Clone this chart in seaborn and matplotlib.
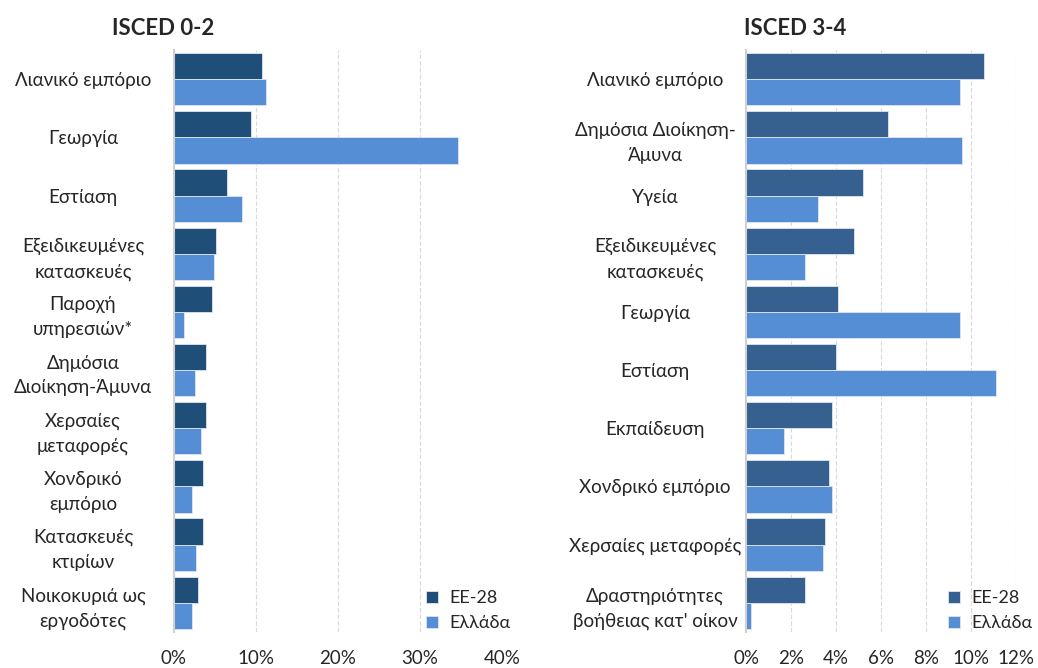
import pandas as pd
import matplotlib.pyplot as plt
import seaborn as sns
from matplotlib.ticker import FuncFormatter

# ISCED 0-2
cats_low = ["Λιανικό εμπόριο", "Γεωργία", "Εστίαση", "Εξειδικευμένες\nκατασκευές",
            "Παροχή\nυπηρεσιών*", "Δημόσια\nΔιοίκηση-Άμυνα", "Χερσαίες\nμεταφορές",
            "Χονδρικό\nεμπόριο", "Κατασκευές\nκτιρίων", "Νοικοκυριά ως\nεργοδότες"]
eu_low = [10.7, 9.4, 6.5, 5.1, 4.6, 3.9, 3.9, 3.5, 3.5, 2.9]
gr_low = [11.2, 34.6, 8.3, 4.9, 1.2, 2.6, 3.3, 2.2, 2.7, 2.2]

# ISCED 3-4
cats_mid = ["Λιανικό εμπόριο", "Δημόσια Διοίκηση-\nΆμυνα", "Υγεία", "Εξειδικευμένες\nκατασκευές",
            "Γεωργία", "Εστίαση", "Εκπαίδευση", "Χονδρικό εμπόριο",
            "Χερσαίες μεταφορές", "Δραστηριότητες\nβοήθειας κατ' οίκον"]
eu_mid = [10.6, 6.3, 5.2, 4.8, 4.1, 4.0, 3.8, 3.7, 3.5, 2.6]
gr_mid = [9.5, 9.6, 3.2, 2.6, 9.5, 11.1, 1.7, 3.8, 3.4, 0.2]

series = ["ΕΕ-28", "Ελλάδα"]

sns.set_theme(style="white")
plt.rcParams['font.family'] = ['Lato', 'DejaVu Sans']

fig = plt.figure(figsize=(10.38, 6.68), dpi=100)
ax1 = fig.add_axes([0.1676, 0.054, 0.316, 0.871])
ax2 = fig.add_axes([0.7187, 0.054, 0.2601, 0.871])


def draw(ax, cats, eu, gr, dark, xmax, step, title, tx, legx):
    df = pd.DataFrame({
        "cat": cats * 2,
        "val": eu + gr,
        "series": [series[0]] * len(cats) + [series[1]] * len(cats),
    })
    sns.barplot(data=df, y="cat", x="val", hue="series", orient="h",
                palette=[dark, "#558ED5"], saturation=1, width=0.9, ax=ax,
                edgecolor="#DDE6F0", linewidth=0.6)
    ax.set_xlim(0, xmax)
    ax.set_xticks(range(0, xmax + 1, step))
    ax.xaxis.set_major_formatter(FuncFormatter(lambda v, p: f"{v:.0f}%"))
    ax.set_xlabel("")
    ax.set_ylabel("")
    ax.tick_params(axis="x", length=0, pad=13, labelsize=13.5)
    ax.tick_params(axis="y", length=0, pad=65.5, labelsize=13.5)
    for lab in ax.get_yticklabels():
        lab.set_horizontalalignment("center")
        lab.set_multialignment("center")
        lab.set_linespacing(1.55)
    ax.grid(axis="x", color="#D9D9D9", linestyle=(0, (4, 2)), linewidth=0.8)
    ax.set_axisbelow(True)
    for s in ["top", "right", "bottom"]:
        ax.spines[s].set_visible(False)
    ax.spines["left"].set_color("#D0D0D0")
    ax.spines["left"].set_linewidth(1.5)
    ax.legend(loc="lower left", bbox_to_anchor=(legx, 0.055), bbox_transform=fig.transFigure,
              frameon=False, fontsize=13, handlelength=0.7, handleheight=0.7,
              handletextpad=0.6, labelspacing=0.5, borderaxespad=0, borderpad=0)
    fig.text(tx, 0.958, title, fontsize=16, fontweight="bold", ha="center", va="center")


draw(ax1, cats_low, eu_low, gr_low, "#1F4E79", 40, 10, "ISCED 0-2", 0.157, 0.410)
draw(ax2, cats_mid, eu_mid, gr_mid, "#35608F", 12, 2, "ISCED 3-4", 0.766, 0.913)

fig.savefig("out.png", dpi=100)
